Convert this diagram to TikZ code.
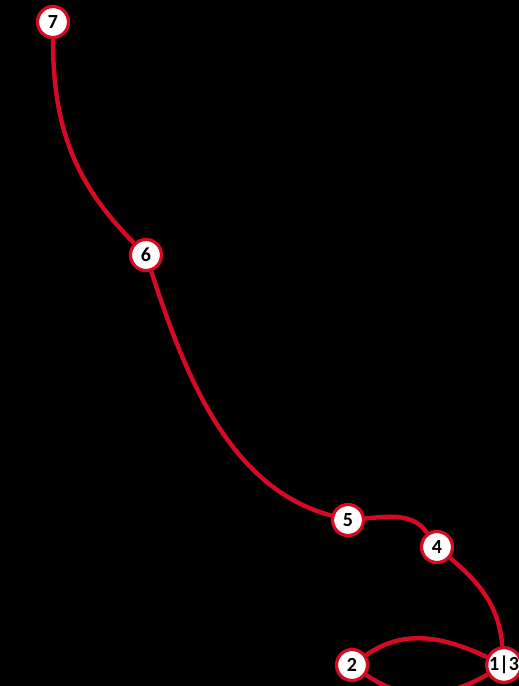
\documentclass[tikz,border=0pt]{standalone}
\usepackage{fontspec}
\setmainfont{Carlito}
\definecolor{routered}{RGB}{214,10,36}
\begin{document}
\begin{tikzpicture}[x=0.5pt, y=-0.5pt,
		stop/.style={circle, draw=routered, fill=white, line width=1.6pt, minimum size=15.5pt, inner sep=0pt, font=\fontsize{10}{12}\selectfont\bfseries},
		route/.style={routered, line width=2.2pt}]
		% Background
		\fill[black] (0,0) rectangle (519,686);
		\useasboundingbox (0,0) rectangle (519,686);
		% Stops
		\node[stop] (s7) at (53,22) {7};
		\node[stop] (s6) at (146,255) {6};
		\node[stop] (s5) at (348,520) {5};
		\node[stop] (s4) at (437,547) {4};
		\node[stop] (s2) at (352,665) {2};
		\node[stop] (s13) at (504,665) {1|3};
		% Route
		\draw[route] (s7) to[out=-90, in=135] (s6);
		\draw[route] (s6) to[out=-72, in=165, looseness=0.9] (s5);
		\draw[route] (s5) to[out=5, in=125] (s4);
		\draw[route] (s4) to[out=-40, in=95] (s13);
		\draw[route] (s2) to[out=35, in=155] (s13);
		\draw[route] (s2) to[out=-35, in=-150] (s13);
	\end{tikzpicture}
\end{document}
